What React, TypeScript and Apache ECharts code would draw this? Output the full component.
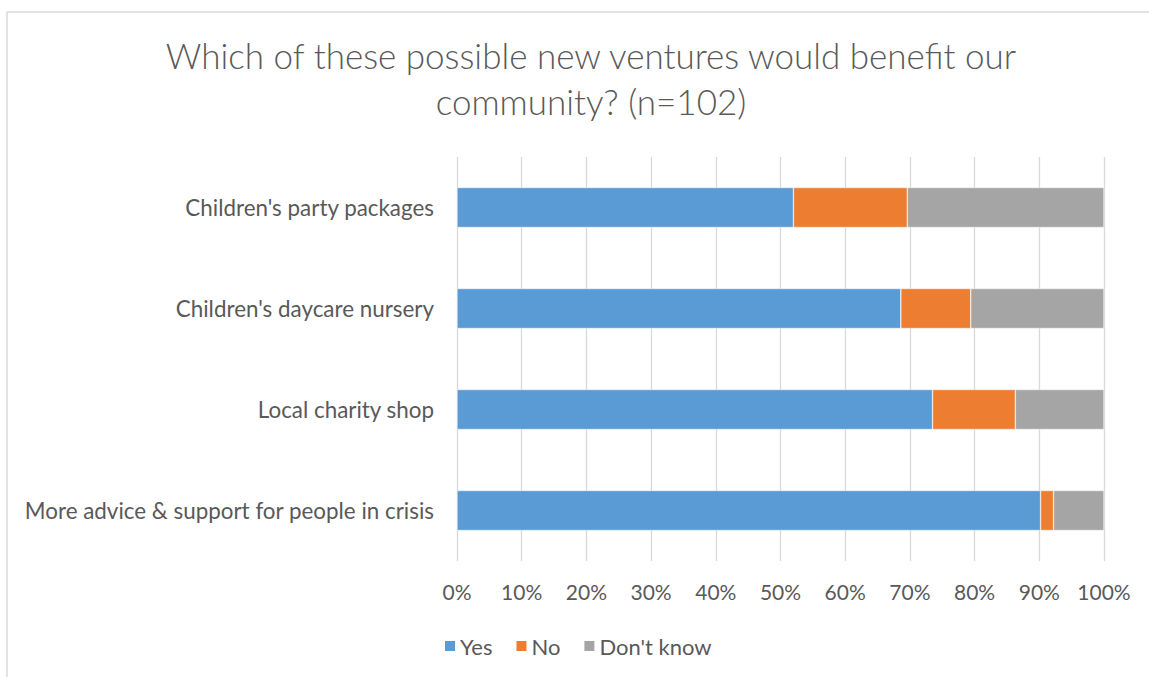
import React, { useEffect, useRef } from "react";
import * as echarts from "echarts";

const titleText = "Which of these possible new ventures would benefit our\ncommunity? (n=102)";
const categories = [
  "Children's party packages",
  "Children's daycare nursery",
  "Local charity shop",
  "More advice & support for people in crisis",
];
const yesValues = [52.0, 68.6, 73.5, 90.2];
const noValues = [17.6, 10.8, 12.8, 2.0];
const dontKnowValues = [30.4, 20.6, 13.7, 7.8];
const seriesNames = ["Yes", "No", "Don't know"];
const seriesColors = ["#5b9bd5", "#ed7d31", "#a5a5a5"];

const FONT = "Lato, 'Open Sans', sans-serif";
const TEXT = "#595959";

export default function App() {
  const ref = useRef<HTMLDivElement>(null);
  useEffect(() => {
    if (!ref.current) return;
    const chart = echarts.init(ref.current, undefined, { renderer: "svg" });
    const allValues = [yesValues, noValues, dontKnowValues];
    chart.setOption({
      animation: false,
      backgroundColor: "#ffffff",
      title: {
        text: titleText,
        left: 586,
        textAlign: "center",
        top: 27,
        textStyle: {
          fontFamily: FONT,
          fontWeight: 300,
          fontSize: 35,
          color: TEXT,
          lineHeight: 46,
        },
      },
      graphic: [
        { type: "line", shape: { x1: 7, y1: 12, x2: 1149, y2: 12 }, style: { stroke: "#d9d9d9", lineWidth: 1.5 } },
        { type: "line", shape: { x1: 7, y1: 12, x2: 7, y2: 677 }, style: { stroke: "#d9d9d9", lineWidth: 1.5 } },
      ],
      legend: {
        data: seriesNames,
        left: 438,
        top: 630,
        itemWidth: 12,
        itemHeight: 12,
        itemGap: 22,
        icon: "rect",
        textStyle: { fontFamily: FONT, fontSize: 22, color: TEXT, padding: [0, 0, 0, -1] },
      },
      grid: { left: 457, right: 45, top: 157, height: 404, containLabel: false },
      xAxis: {
        type: "value",
        min: 0,
        max: 100,
        interval: 10,
        axisLabel: {
          formatter: "{value}%",
          fontFamily: FONT,
          fontSize: 21,
          color: TEXT,
          margin: 20,
        },
        axisLine: { show: false },
        axisTick: { show: false },
        splitLine: { lineStyle: { color: "#d9d9d9", width: 1.3 } },
      },
      yAxis: {
        type: "category",
        data: categories,
        inverse: true,
        axisLabel: { fontFamily: FONT, fontSize: 22.4, color: TEXT, margin: 23 },
        axisLine: { show: false },
        axisTick: { show: false },
      },
      series: seriesNames.map((name, i) => ({
        name,
        type: "bar",
        stack: "total",
        barWidth: 40,
        data: allValues[i],
        itemStyle: { color: seriesColors[i], borderColor: "#ffffff", borderWidth: 0.5 },
      })),
    });
    return () => chart.dispose();
  }, []);
  return (
    <div
      ref={ref}
      style={{ position: "fixed", left: 0, top: 0, width: 1149, height: 677 }}
    />
  );
}
